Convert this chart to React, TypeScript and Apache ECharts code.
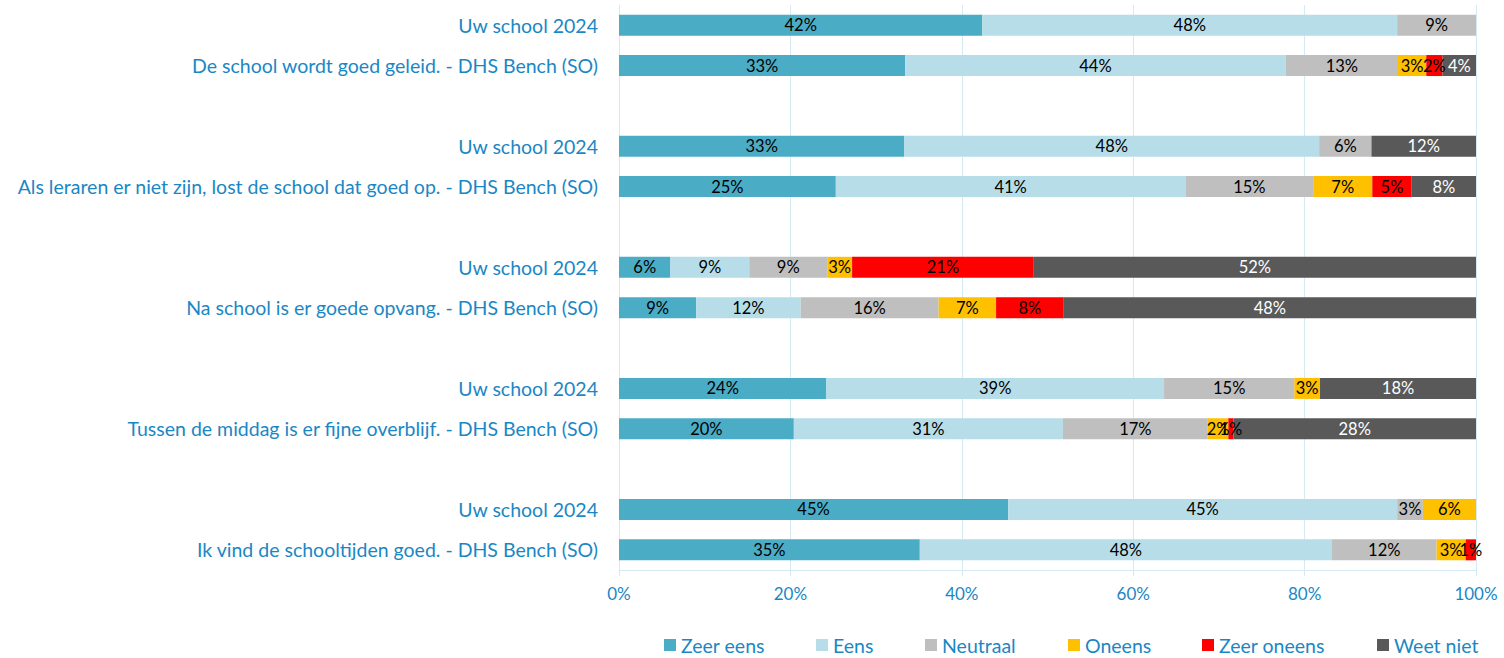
import React, { useEffect, useRef } from "react";
import * as echarts from "echarts";

const categories = [
  "Uw school 2024",
  "De school wordt goed geleid. - DHS Bench (SO)",
  "",
  "Uw school 2024",
  "Als leraren er niet zijn, lost de school dat goed op. - DHS Bench (SO)",
  " ",
  "Uw school 2024",
  "Na school is er goede opvang. - DHS Bench (SO)",
  "  ",
  "Uw school 2024",
  "Tussen de middag is er fijne overblijf. - DHS Bench (SO)",
  "   ",
  "Uw school 2024",
  "Ik vind de schooltijden goed. - DHS Bench (SO)",
];

const seriesNames = ["Zeer eens", "Eens", "Neutraal", "Oneens", "Zeer oneens", "Weet niet"];
const colors = ["#4BACC6", "#B7DEE8", "#BFBFBF", "#FFC000", "#FF0000", "#595959"];

const zeerEens = [42.4, 33.4, null, 33.3, 25.3, null, 6.0, 9.0, null, 24.2, 20.4, null, 45.4, 35.1];
const eens = [48.4, 44.4, null, 48.4, 40.8, null, 9.2, 12.2, null, 39.4, 31.4, null, 45.4, 48.1];
const neutraal = [9.2, 13.1, null, 6.1, 14.9, null, 9.1, 16.1, null, 15.2, 16.9, null, 3.0, 12.2];
const oneens = [0, 3.3, null, 0, 6.9, null, 2.9, 6.7, null, 3.0, 2.4, null, 6.2, 3.4];
const zeerOneens = [0, 1.9, null, 0, 4.6, null, 21.2, 7.9, null, 0, 0.6, null, 0, 1.2];
const weetNiet = [0, 4.0, null, 12.2, 7.5, null, 51.6, 48.1, null, 18.2, 28.3, null, 0, 0];

const seriesValues = [zeerEens, eens, neutraal, oneens, zeerOneens, weetNiet];
const xTicks = [0, 20, 40, 60, 80, 100];

const BLUE = "#1A87C5";
const FONT = "Lato, 'Open Sans', sans-serif";
const GRID = "#D5EAF2";
const legendLefts = [664, 816, 925, 1068, 1202, 1377];

export default function App() {
  const ref = useRef<HTMLDivElement>(null);
  useEffect(() => {
    if (!ref.current) return;
    const chart = echarts.init(ref.current, null, { renderer: "svg" });
    chart.setOption({
      animation: false,
      textStyle: { fontFamily: FONT },
      grid: { left: 619, right: 28, top: 5, bottom: 88, containLabel: false },
      legend: seriesNames.map((name, i) => ({
        data: [name],
        left: legendLefts[i],
        top: 635,
        padding: 0,
        icon: "rect",
        itemWidth: 12,
        itemHeight: 12,
        itemGap: 5,
        textStyle: { color: BLUE, fontSize: 19.5, fontFamily: FONT, lineHeight: 20 },
      })),
      xAxis: {
        type: "value",
        min: xTicks[0],
        max: xTicks[xTicks.length - 1],
        interval: 20,
        axisLabel: {
          formatter: (v: number) => v + "%",
          color: BLUE,
          fontSize: 17,
          margin: 15,
          fontFamily: FONT,
        },
        axisLine: { show: true, lineStyle: { color: GRID, width: 1 } },
        axisTick: { show: true, length: 6, lineStyle: { color: GRID } },
        splitLine: { show: true, lineStyle: { color: GRID, width: 1 } },
      },
      yAxis: {
        type: "category",
        inverse: true,
        data: categories,
        axisLine: { show: true, lineStyle: { color: GRID } },
        axisTick: { show: false },
        axisLabel: { color: BLUE, fontSize: 19.5, margin: 21, fontFamily: FONT },
      },
      series: seriesNames.map((name, i) => ({
        name,
        type: "bar",
        stack: "total",
        barWidth: 21,
        data: seriesValues[i],
        itemStyle: { color: colors[i] },
        label: {
          show: true,
          position: "inside",
          color: i === 5 ? "#FFFFFF" : "#000000",
          fontSize: 16.5,
          fontFamily: FONT,
          formatter: (p: any) => (p.value ? Math.round(p.value) + "%" : ""),
        },
      })),
    });
    return () => chart.dispose();
  }, []);
  return (
    <div
      ref={ref}
      style={{ position: "fixed", left: 0, top: 0, width: 1504, height: 658, background: "#fff" }}
    />
  );
}
